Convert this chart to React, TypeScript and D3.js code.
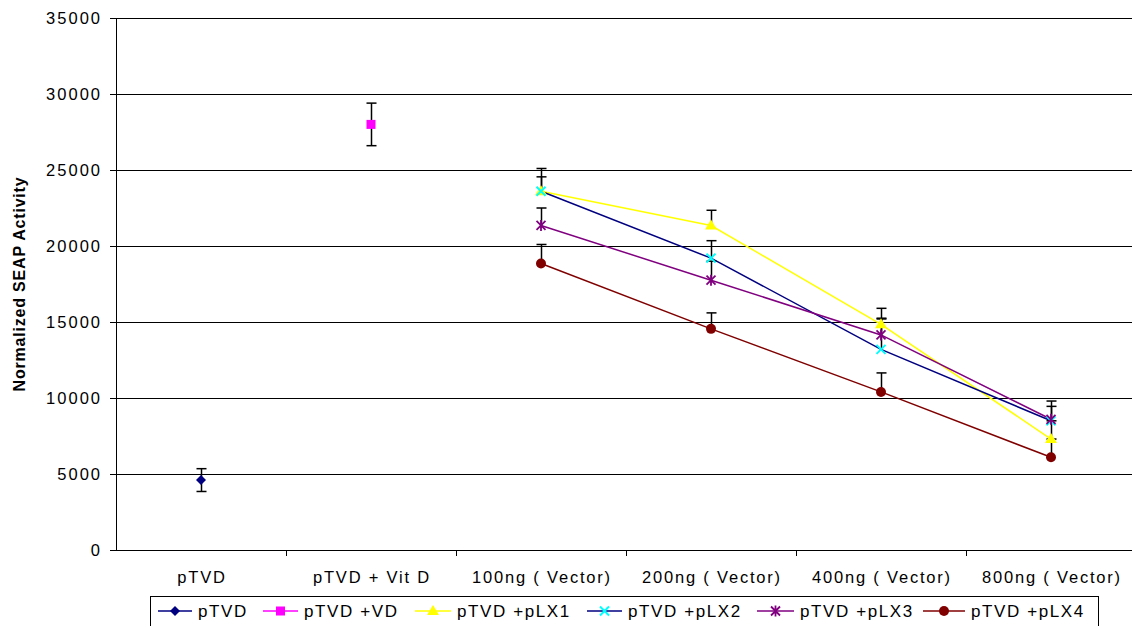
import React from "react";
import * as d3 from "d3";

const categories = ["pTVD", "pTVD + Vit D", "100ng ( Vector)", "200ng ( Vector)", "400ng ( Vector)", "800ng ( Vector)"];
const yTicks = [0, 5000, 10000, 15000, 20000, 25000, 30000, 35000];

type Pt = { cat: string; v: number; lo: number; hi: number };
type Series = { name: string; line: string; fill: string; marker: string; pts: Pt[] };

const pTVD: Pt[] = [{ cat: "pTVD", v: 4600, lo: 750, hi: 750 }];
const pTVDVD: Pt[] = [{ cat: "pTVD + Vit D", v: 28000, lo: 1400, hi: 1400 }];
const pLX1: Pt[] = [
  { cat: "100ng ( Vector)", v: 23600, lo: 0, hi: 1500 },
  { cat: "200ng ( Vector)", v: 21350, lo: 0, hi: 1000 },
  { cat: "400ng ( Vector)", v: 14850, lo: 0, hi: 1050 },
  { cat: "800ng ( Vector)", v: 7300, lo: 0, hi: 1200 },
];
const pLX2: Pt[] = [
  { cat: "100ng ( Vector)", v: 23600, lo: 0, hi: 950 },
  { cat: "200ng ( Vector)", v: 19200, lo: 0, hi: 1150 },
  { cat: "400ng ( Vector)", v: 13200, lo: 0, hi: 2000 },
  { cat: "800ng ( Vector)", v: 8500, lo: 0, hi: 950 },
];
const pLX3: Pt[] = [
  { cat: "100ng ( Vector)", v: 21350, lo: 0, hi: 1150 },
  { cat: "200ng ( Vector)", v: 17750, lo: 0, hi: 1250 },
  { cat: "400ng ( Vector)", v: 14150, lo: 0, hi: 1100 },
  { cat: "800ng ( Vector)", v: 8600, lo: 0, hi: 1200 },
];
const pLX4: Pt[] = [
  { cat: "100ng ( Vector)", v: 18850, lo: 0, hi: 1250 },
  { cat: "200ng ( Vector)", v: 14550, lo: 0, hi: 1050 },
  { cat: "400ng ( Vector)", v: 10400, lo: 0, hi: 1250 },
  { cat: "800ng ( Vector)", v: 6100, lo: 0, hi: 1200 },
];

const series: Series[] = [
  { name: "pTVD", line: "#000080", fill: "#000080", marker: "diamond", pts: pTVD },
  { name: "pTVD +VD", line: "#FF00FF", fill: "#FF00FF", marker: "square", pts: pTVDVD },
  { name: "pTVD +pLX1", line: "#FFFF00", fill: "#FFFF00", marker: "triangle", pts: pLX1 },
  { name: "pTVD +pLX2", line: "#000080", fill: "#00FFFF", marker: "x", pts: pLX2 },
  { name: "pTVD +pLX3", line: "#800080", fill: "#800080", marker: "star", pts: pLX3 },
  { name: "pTVD +pLX4", line: "#800000", fill: "#800000", marker: "circle", pts: pLX4 },
];

const W = 1132, H = 626;
const left = 116, right = 1136, top = 18, bottom = 550;

function Marker({ type, x, y, color }: { type: string; x: number; y: number; color: string }) {
  switch (type) {
    case "diamond":
      return <path d={`M${x},${y - 5}L${x + 5},${y}L${x},${y + 5}L${x - 5},${y}Z`} fill={color} />;
    case "square":
      return <rect x={x - 4.5} y={y - 4.5} width={9} height={9} fill={color} />;
    case "triangle":
      return <path d={`M${x},${y - 6}L${x + 6},${y + 4}L${x - 6},${y + 4}Z`} fill={color} />;
    case "x":
      return <path d={`M${x - 4.5},${y - 4.5}L${x + 4.5},${y + 4.5}M${x - 4.5},${y + 4.5}L${x + 4.5},${y - 4.5}`} stroke={color} strokeWidth={2} />;
    case "star":
      return <path d={`M${x - 4.5},${y - 4.5}L${x + 4.5},${y + 4.5}M${x - 4.5},${y + 4.5}L${x + 4.5},${y - 4.5}M${x},${y - 5.5}L${x},${y + 5.5}`} stroke={color} strokeWidth={1.8} />;
    default:
      return <circle cx={x} cy={y} r={5} fill={color} />;
  }
}

export default function App() {
  const x = d3.scaleBand<string>().domain(categories).range([left, right]);
  const y = d3.scaleLinear().domain([0, 35000]).range([bottom, top]);
  const cx = (c: string) => (x(c) as number) + x.bandwidth() / 2;
  const line = d3.line<Pt>().x((d) => cx(d.cat)).y((d) => y(d.v));
  const font = "Arial, 'Liberation Sans', sans-serif";

  const legendItems = [
    { lx: 158, tx: 198 },
    { lx: 263, tx: 304 },
    { lx: 415, tx: 457 },
    { lx: 587, tx: 628 },
    { lx: 757, tx: 800 },
    { lx: 923, tx: 971 },
  ];

  return (
    <svg width={W} height={H} style={{ position: "absolute", left: 0, top: 0, background: "#fff" }}>
      <rect width={W} height={H} fill="#fff" />
      {yTicks.map((t) => (
        <g key={t}>
          {t > 0 && <line x1={left} x2={W} y1={Math.round(y(t)) + 0.5} y2={Math.round(y(t)) + 0.5} stroke="#000" strokeWidth={1} />}
          <line x1={left - 6} x2={left} y1={Math.round(y(t)) + 0.5} y2={Math.round(y(t)) + 0.5} stroke="#000" />
          <text x={102} y={y(t)} dy="0.35em" textAnchor="end" fontFamily={font} fontSize={16.5} letterSpacing={2}>{t}</text>
        </g>
      ))}
      <line x1={left + 0.5} x2={left + 0.5} y1={top} y2={bottom} stroke="#000" />
      <line x1={left} x2={W} y1={bottom + 0.5} y2={bottom + 0.5} stroke="#000" />
      {categories.slice(1).map((c) => (
        <line key={c} x1={Math.round(x(c) as number) + 0.5} x2={Math.round(x(c) as number) + 0.5} y1={bottom} y2={bottom + 6} stroke="#000" />
      ))}
      {categories.map((c) => (
        <text key={c} x={cx(c) + 1} y={577} dy="0.35em" textAnchor="middle" fontFamily={font} fontSize={16.5} letterSpacing={1.8}>{c}</text>
      ))}
      <text transform={`translate(25,${(top + bottom) / 2}) rotate(-90)`} textAnchor="middle" fontFamily={font} fontSize={16} fontWeight="bold" letterSpacing={0.8}>Normalized SEAP Activity</text>

      {series.map((s) => (
        <g key={s.name}>
          {s.pts.length > 1 && <path d={line(s.pts) || ""} fill="none" stroke={s.line} strokeWidth={1.5} />}
        </g>
      ))}
      {series.map((s) => (
        <g key={s.name + "e"}>
          {s.pts.map((p) => {
            const px = Math.round(cx(p.cat)) + 0.5;
            const y1 = y(p.v + p.hi), y0 = y(p.v - p.lo);
            return (
              <g key={p.cat}>
                <line x1={px} x2={px} y1={y1} y2={y0} stroke="#000" strokeWidth={1.5} />
                {p.hi > 0 && <line x1={px - 5} x2={px + 5} y1={y1} y2={y1} stroke="#000" strokeWidth={1.5} />}
                {p.lo > 0 && <line x1={px - 5} x2={px + 5} y1={y0} y2={y0} stroke="#000" strokeWidth={1.5} />}
              </g>
            );
          })}
        </g>
      ))}
      {series.map((s) => (
        <g key={s.name + "m"}>
          {s.pts.map((p) => (
            <Marker key={p.cat} type={s.marker} x={cx(p.cat)} y={y(p.v)} color={s.fill} />
          ))}
        </g>
      ))}

      <rect x={150.5} y={596.5} width={948} height={40} fill="#fff" stroke="#000" strokeWidth={1} />
      {series.map((s, i) => {
        const it = legendItems[i];
        const ly = 611;
        return (
          <g key={s.name + "l"}>
            <line x1={it.lx} x2={it.tx - 6} y1={ly} y2={ly} stroke={s.line} strokeWidth={1.5} />
            <Marker type={s.marker} x={(it.lx + it.tx - 6) / 2} y={ly} color={s.fill} />
            <text x={it.tx} y={ly} dy="0.35em" fontFamily={font} fontSize={17} letterSpacing={1.6}>{s.name}</text>
          </g>
        );
      })}
    </svg>
  );
}
